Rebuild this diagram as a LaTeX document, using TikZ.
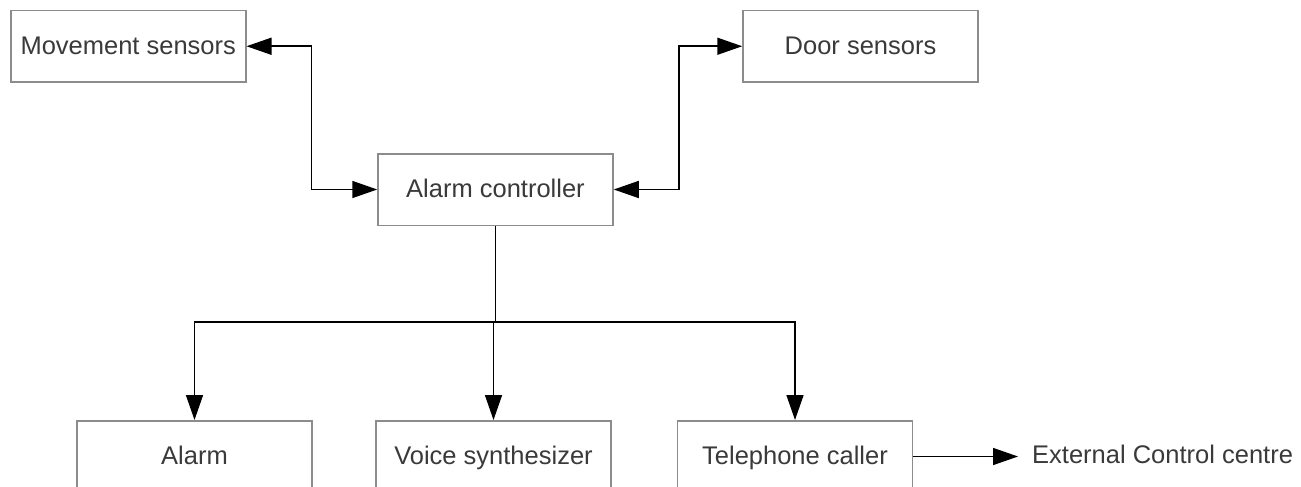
\documentclass[tikz,border=0pt]{standalone}
\usepackage{fontspec}
\setmainfont{Liberation Sans}
\usetikzlibrary{arrows.meta}
\definecolor{boxgray}{HTML}{8C8C8C}
\definecolor{txtgray}{HTML}{3A3A3A}
\begin{document}
\begin{tikzpicture}[x=1pt,y=-1pt,
  box/.style={draw=boxgray, line width=1.5pt, fill=white, minimum width=235pt,
    minimum height=71.5pt, inner sep=0pt, text=txtgray, text height=16.4pt, text depth=0pt,
    font=\fontsize{25.5}{30}\selectfont},
  lbl/.style={inner sep=0pt, text=txtgray, text height=16.4pt, text depth=0pt,
    font=\fontsize{25.5}{30}\selectfont},
  conn/.style={line width=1.5pt, black, -{Triangle[length=25pt,width=17pt]}},
  biconn/.style={line width=1.5pt, black,
    {Triangle[length=25pt,width=17pt]}-{Triangle[length=25pt,width=17pt]}}]
\useasboundingbox (0,0) rectangle (1301,487);
\clip (0,0) rectangle (1301,487);
\fill[white] (0,0) rectangle (1301,487);

\node[box] (ms) at (128.25,46.25) {Movement sensors};
\node[box] (ds) at (860.5,46.25) {Door sensors};
\node[box] (ac) at (495.5,189.5) {Alarm controller};
\node[box] (alarm) at (194.5,456.5) {Alarm};
\node[box] (voice) at (493.5,456.5) {Voice synthesizer};
\node[box] (tel) at (795,456.5) {Telephone caller};
\node[lbl, anchor=west] (ext) at (1032,455) {External Control centre};

\draw[biconn] (ms.east) -- ++(65,0) |- (ac.west);
\draw[biconn] (ac.east) -- ++(65,0) |- (ds.west);
\coordinate (junc) at (495.5,322);
\coordinate (extin) at (1018,456.5);
\draw[line width=1.5pt] (ac.south) -- (junc);
\draw[conn] (junc) -| (alarm.north);
\draw[conn] (junc) -- (voice.north |- junc) -- (voice.north);
\draw[conn] (junc) -| (tel.north);
\draw[conn] (tel.east) -- (extin);
\end{tikzpicture}
\end{document}
